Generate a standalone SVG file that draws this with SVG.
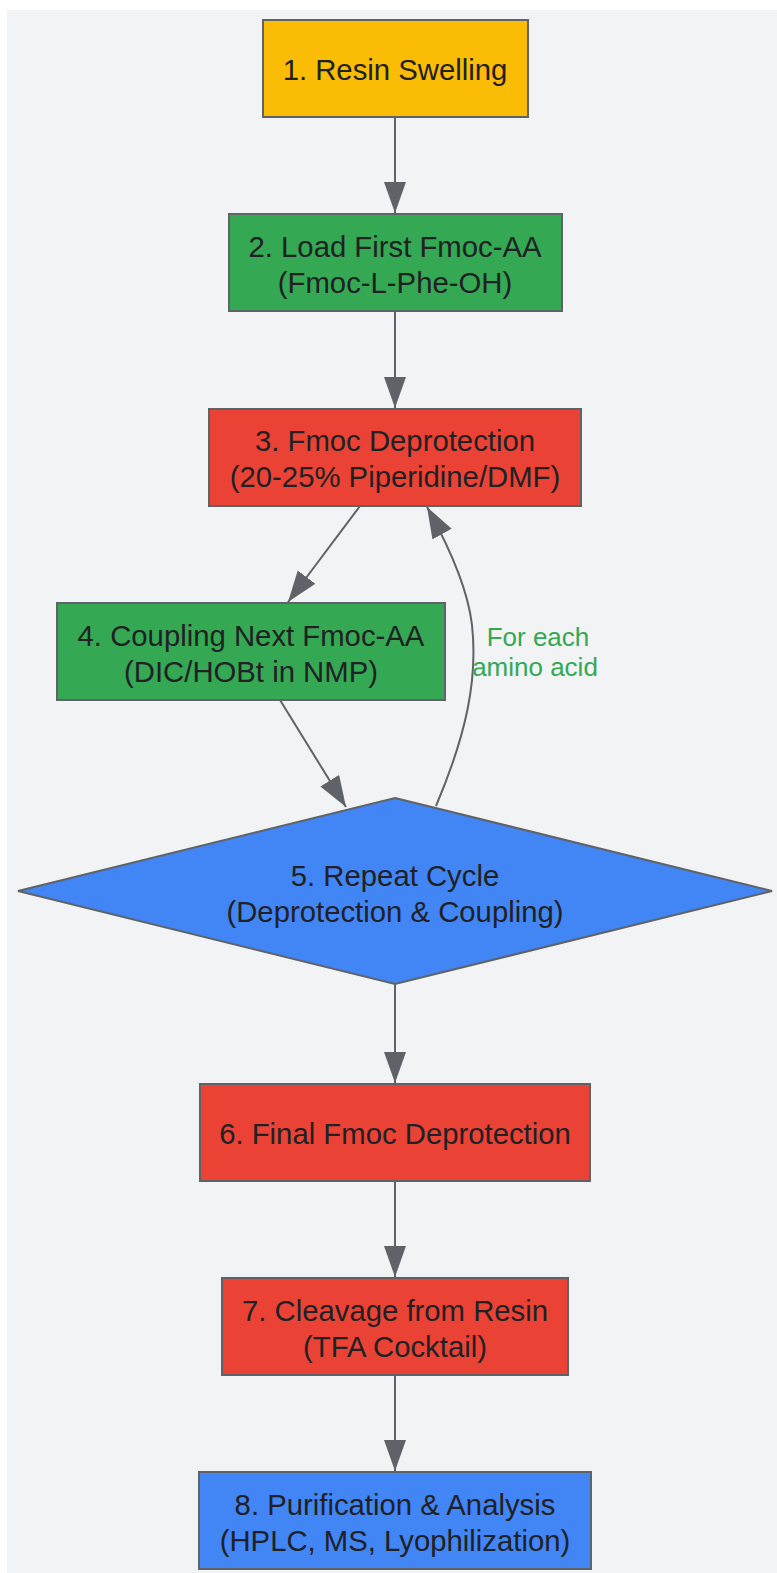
<svg xmlns="http://www.w3.org/2000/svg" width="777" height="1573" viewBox="0 0 777 1573">
<style>
.n{stroke:#5f6368;stroke-width:2}
.t{font-family:"Liberation Sans",Arial,sans-serif;font-size:29.3px;fill:#202124;text-anchor:middle;dominant-baseline:central}
.e{fill:none;stroke:#5f6368;stroke-width:2}
.l{font-family:"Liberation Sans",Arial,sans-serif;font-size:26px;fill:#34a853;text-anchor:middle;dominant-baseline:central}
</style>
<defs>
<marker id="ah" markerUnits="userSpaceOnUse" markerWidth="32" markerHeight="24" refX="31" refY="11" orient="auto">
<path d="M0,0 L31,11 L0,22 z" fill="#5f6368"/>
</marker>
</defs>
<rect x="7" y="10" width="770" height="1563" fill="#f1f3f4"/>
<g id="connectors">
<path class="e" d="M395,117 L395,213" marker-end="url(#ah)"/>
<path class="e" d="M395,311 L395,408" marker-end="url(#ah)"/>
<path class="e" d="M360,506 L288,602" marker-end="url(#ah)"/>
<path class="e" d="M280,700 L346,807" marker-end="url(#ah)"/>
<path class="e" d="M436,806 C466,735 478,680 472,625 C468,590 452,552 427,507" marker-end="url(#ah)"/>
<path class="e" d="M395,984 L395,1083" marker-end="url(#ah)"/>
<path class="e" d="M395,1181 L395,1277" marker-end="url(#ah)"/>
<path class="e" d="M395,1375 L395,1471" marker-end="url(#ah)"/>
<text class="l" x="538" y="637">For each</text>
<text class="l" x="535" y="667">amino acid</text>
</g>
<g id="n1"><rect class="n" x="263" y="20" width="265" height="97" fill="#fbbc05"/><text class="t" x="395" y="69">1. Resin Swelling</text></g>
<g id="n2"><rect class="n" x="229" y="214" width="333" height="97" fill="#34a853"/><text class="t" x="395" y="246">2. Load First Fmoc-AA</text><text class="t" x="395" y="282">(Fmoc-L-Phe-OH)</text></g>
<g id="n3"><rect class="n" x="209" y="409" width="372" height="97" fill="#ea4335"/><text class="t" x="395" y="440">3. Fmoc Deprotection</text><text class="t" x="395" y="476">(20-25% Piperidine/DMF)</text></g>
<g id="n4"><rect class="n" x="57" y="603" width="388" height="97" fill="#34a853"/><text class="t" x="251" y="635">4. Coupling Next Fmoc-AA</text><text class="t" x="251" y="671">(DIC/HOBt in NMP)</text></g>
<g id="n5"><polygon class="n" points="395,798 772,891 395,984 18,891" fill="#4285f4"/><text class="t" x="395" y="875">5. Repeat Cycle</text><text class="t" x="395" y="911">(Deprotection &amp; Coupling)</text></g>
<g id="n6"><rect class="n" x="200" y="1084" width="390" height="97" fill="#ea4335"/><text class="t" x="395" y="1133">6. Final Fmoc Deprotection</text></g>
<g id="n7"><rect class="n" x="222" y="1278" width="346" height="97" fill="#ea4335"/><text class="t" x="395" y="1310">7. Cleavage from Resin</text><text class="t" x="395" y="1346">(TFA Cocktail)</text></g>
<g id="n8"><rect class="n" x="199" y="1472" width="392" height="97" fill="#4285f4"/><text class="t" x="395" y="1504">8. Purification &amp; Analysis</text><text class="t" x="395" y="1540">(HPLC, MS, Lyophilization)</text></g>
</svg>
